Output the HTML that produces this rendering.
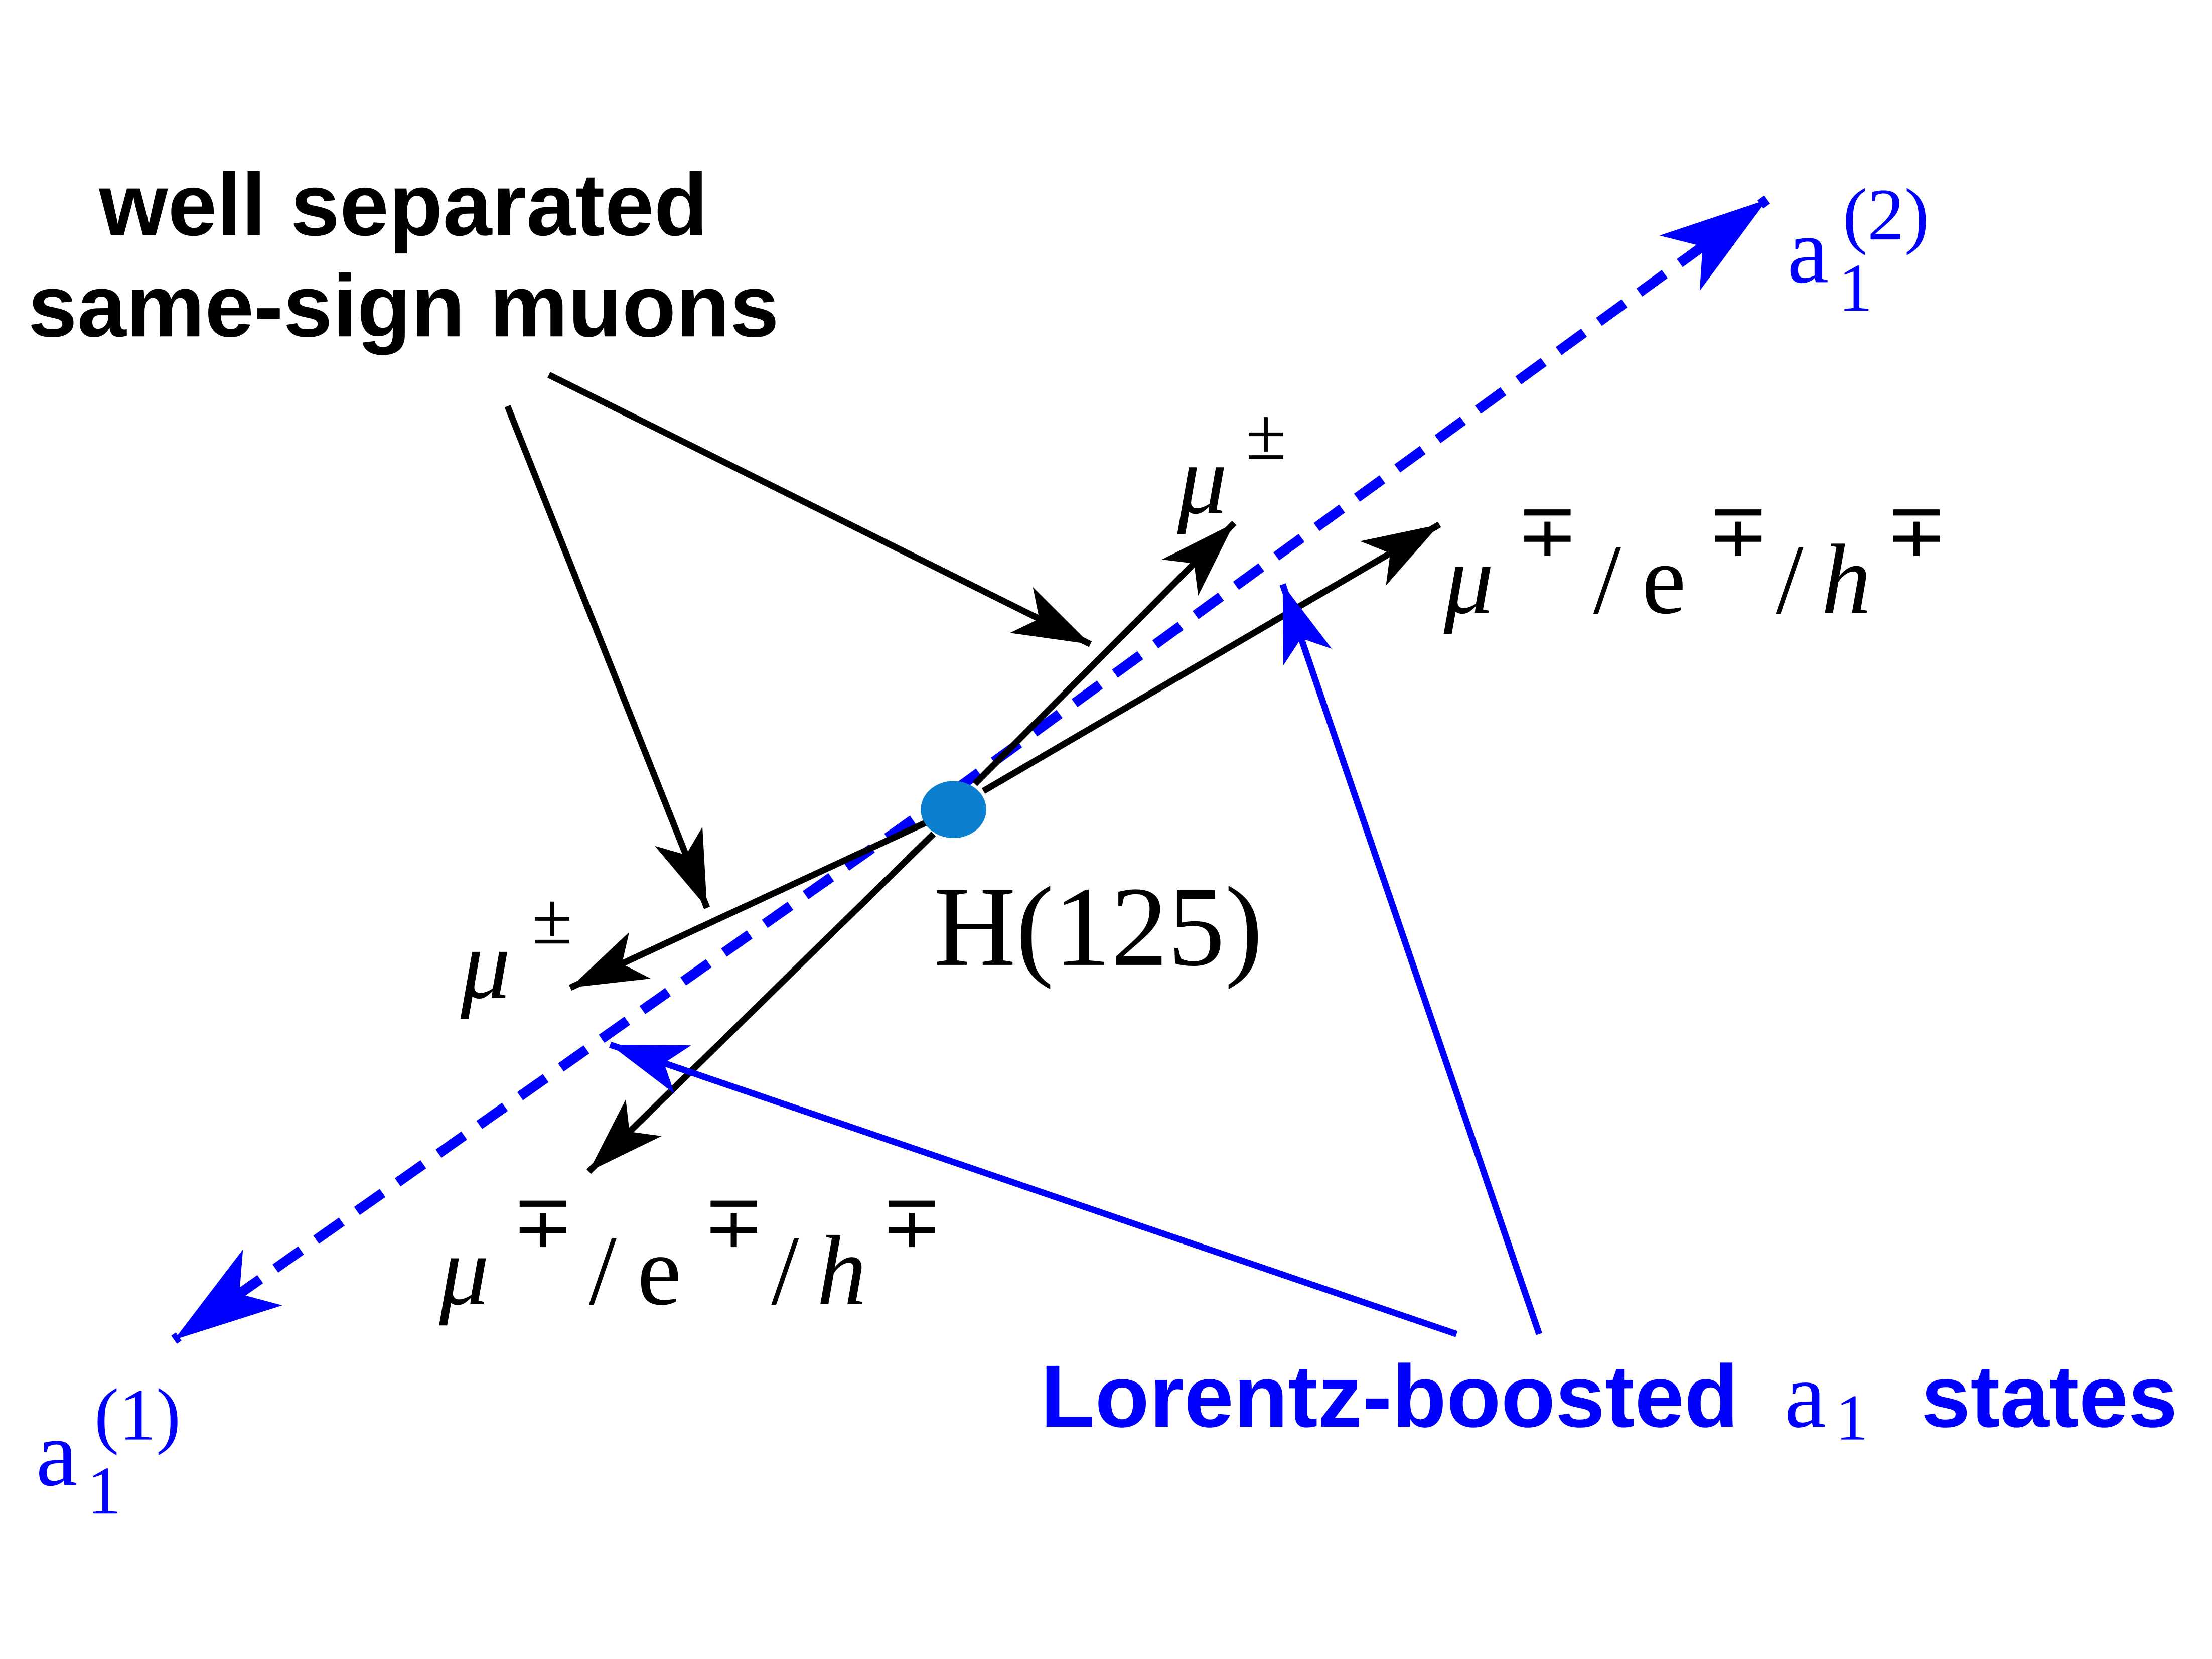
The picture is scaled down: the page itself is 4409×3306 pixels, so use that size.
<!DOCTYPE html>
<html><head><meta charset="utf-8"><style>
html,body{margin:0;padding:0;background:#fff;}
svg{display:block;}
</style></head><body>
<svg width="4409" height="3306" viewBox="0 0 1552 1164" xmlns="http://www.w3.org/2000/svg">
<defs>
<marker id="ab" markerUnits="userSpaceOnUse" markerWidth="1" markerHeight="1" refX="0" refY="0" orient="auto" overflow="visible">
<path d="M0,0 L-54,-18 L-40,0 L-54,18 z" fill="#000"/>
</marker>
<marker id="au" markerUnits="userSpaceOnUse" markerWidth="1" markerHeight="1" refX="0" refY="0" orient="auto" overflow="visible">
<path d="M0,0 L-54,-18 L-40,0 L-54,18 z" fill="#0000ff"/>
</marker>
<marker id="ad" markerUnits="userSpaceOnUse" markerWidth="1" markerHeight="1" refX="0" refY="0" orient="auto" overflow="visible">
<path d="M0,0 L-76,-24 L-56,0 L-76,24 z" fill="#0000ff"/>
</marker>
</defs>
<rect width="1552" height="1164" fill="#fff"/>
<line x1="669" y1="555" x2="1240" y2="140" stroke="#0000ff" stroke-width="7" stroke-dasharray="22 13" marker-end="url(#ad)"/>
<line x1="669" y1="555" x2="122" y2="940" stroke="#0000ff" stroke-width="7" stroke-dasharray="22 13" marker-end="url(#ad)"/>
<g stroke="#000" stroke-width="4.5" fill="none">
<line x1="684" y1="550" x2="866" y2="367" marker-end="url(#ab)"/>
<line x1="690" y1="555" x2="1010" y2="368" marker-end="url(#ab)"/>
<line x1="650" y1="577" x2="400" y2="693" marker-end="url(#ab)"/>
<line x1="655" y1="585" x2="413" y2="822" marker-end="url(#ab)"/>
<line x1="385" y1="263" x2="765" y2="452" marker-end="url(#ab)"/>
<line x1="356" y1="285" x2="496" y2="637" marker-end="url(#ab)"/>
</g>
<g stroke="#0000ff" stroke-width="4.5" fill="none">
<line x1="1022" y1="936" x2="428" y2="733" marker-end="url(#au)"/>
<line x1="1080" y1="936" x2="900" y2="410" marker-end="url(#au)"/>
</g>
<ellipse cx="669" cy="568" rx="23" ry="20" fill="#0a7fcf"/>
<g font-family="Liberation Sans, sans-serif" font-weight="bold" font-size="62">
<text x="283" y="165" text-anchor="middle">well separated</text>
<text x="283" y="236" text-anchor="middle">same-sign muons</text>
<text x="730" y="1001" fill="#0000ff" textLength="490" lengthAdjust="spacingAndGlyphs">Lorentz-boosted</text>
<text x="1348" y="1001" fill="#0000ff" textLength="180" lengthAdjust="spacingAndGlyphs">states</text>
</g>
<g font-family="Liberation Serif, serif" font-size="70">
<text x="826" y="360" font-style="italic">μ</text><text x="874" y="322" font-size="52">±</text>
<text x="1013" y="430" font-style="italic">μ</text><text x="1064" y="390" font-size="52">∓</text>
<text x="1118" y="430">/</text><text x="1152" y="430">e</text><text x="1198" y="390" font-size="52">∓</text>
<text x="1246" y="430">/</text><text x="1278" y="430" font-style="italic">h</text><text x="1323" y="390" font-size="52">∓</text>
<text x="323" y="700" font-style="italic">μ</text><text x="373" y="662" font-size="52">±</text>
<text x="308" y="915" font-style="italic">μ</text><text x="359" y="875" font-size="52">∓</text>
<text x="413" y="915">/</text><text x="447" y="915">e</text><text x="493" y="875" font-size="52">∓</text>
<text x="541" y="915">/</text><text x="573" y="915" font-style="italic">h</text><text x="618" y="875" font-size="52">∓</text>
<text x="655" y="677" font-size="80">H(125)</text>
<text x="1254" y="198" fill="#0000ff" font-size="66">a</text><text x="1290" y="218" fill="#0000ff" font-size="48">1</text>
<text x="1293" y="168" fill="#0000ff" font-size="52">(2)</text>
<text x="25" y="1042" fill="#0000ff" font-size="66">a</text><text x="61" y="1062" fill="#0000ff" font-size="48">1</text>
<text x="66" y="1010" fill="#0000ff" font-size="52">(1)</text>
<text x="1252" y="1001" fill="#0000ff" font-size="66">a</text><text x="1288" y="1010" fill="#0000ff" font-size="46">1</text>
</g>
</svg>
</body></html>
